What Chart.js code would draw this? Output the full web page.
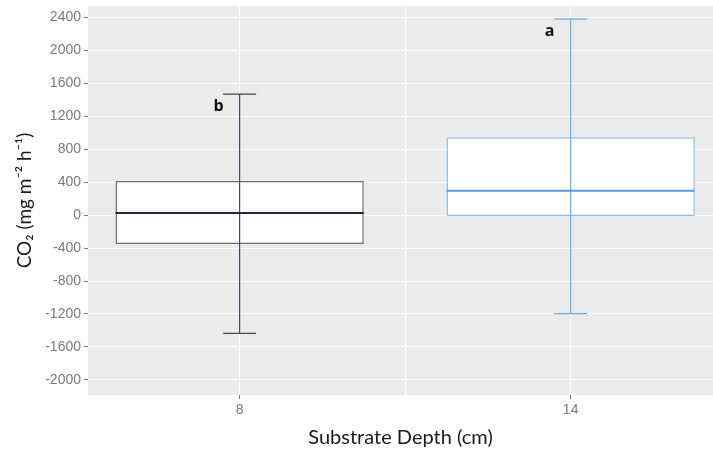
<!DOCTYPE html>
<html>
<head>
<meta charset="utf-8">
<title>CO2 flux by substrate depth</title>
<script src="https://cdn.jsdelivr.net/npm/chart.js@4.4.1/dist/chart.umd.min.js"></script>
<style>
  html, body { margin: 0; padding: 0; background: #fff; }
  #wrap { width: 713px; height: 450px; }
</style>
</head>
<body>
<div id="wrap"><canvas id="fluxChart"></canvas></div>
<script>
// substrate depth groups (cm)
const depths = ['8', '14'];

// box summaries, one entry per depth
const whiskerLow  = [-1435, -1195];
const lowerQuart  = [-350, -12];
const medians     = [25, 293];
const upperQuart  = [412, 944];
const whiskerHigh = [1465, 2375];

// significance letters
const letters = ['b', 'a'];

// y axis labels
const yTicks = [-2000, -1600, -1200, -800, -400, 0, 400, 800, 1200, 1600, 2000, 2400];

const boxEdge   = ['#707070', '#8fc2ea'];
const medianCol = ['#1c2b44', '#5b9bd5'];
const whiskCol  = ['#3d4c60', '#6aaee2'];

const tickGrey = '#7a7a7a';

const panelPlugin = {
    id: 'panel',
    beforeDraw(chart) {
        const { ctx, chartArea: a } = chart;
        ctx.save();
        ctx.fillStyle = '#ebebeb';
        ctx.fillRect(a.left, a.top, a.right - a.left, a.bottom - a.top);
        ctx.restore();
    }
};

// whiskers, caps, medians and letters on top of the boxes
const boxPlugin = {
    id: 'boxExtras',
    afterDatasetsDraw(chart) {
        const { ctx, scales: { x, y } } = chart;
        const unit = x.getPixelForValue(1) - x.getPixelForValue(0);
        const half = unit * 0.375;
        const cap = unit * 0.05;
        ctx.save();
        depths.forEach((d, i) => {
            const cx = x.getPixelForValue(i);
            // whisker
            ctx.strokeStyle = whiskCol[i];
            ctx.lineWidth = 1.2;
            ctx.beginPath();
            ctx.moveTo(cx, y.getPixelForValue(whiskerLow[i]));
            ctx.lineTo(cx, y.getPixelForValue(whiskerHigh[i]));
            [whiskerLow[i], whiskerHigh[i]].forEach(v => {
                const py = y.getPixelForValue(v);
                ctx.moveTo(cx - cap, py);
                ctx.lineTo(cx + cap, py);
            });
            ctx.stroke();
            // median
            const my = y.getPixelForValue(medians[i]);
            ctx.strokeStyle = medianCol[i];
            ctx.lineWidth = 2;
            ctx.beginPath();
            ctx.moveTo(cx - half, my);
            ctx.lineTo(cx + half, my);
            ctx.stroke();
            // letter
            ctx.fillStyle = '#111';
            ctx.font = 'bold 16px "Open Sans", sans-serif';
            ctx.textAlign = 'center';
            ctx.textBaseline = 'middle';
            ctx.fillText(letters[i], cx - 21, y.getPixelForValue(whiskerHigh[i]) + 12);
        });
        ctx.restore();
    }
};

new Chart(document.getElementById('fluxChart'), {
    type: 'bar',
    data: {
        datasets: [{
            data: depths.map((d, i) => ({ x: i, y: [lowerQuart[i], upperQuart[i]] })),
            backgroundColor: '#ffffff',
            borderColor: boxEdge,
            borderWidth: 1.5,
            borderSkipped: false,
            // ruler spacing comes from the half-unit grid ticks, so 1.5 => 0.75 units
            barPercentage: 1.5,
            categoryPercentage: 1,
        }]
    },
    options: {
        responsive: true,
        maintainAspectRatio: false,
        animation: false,
        layout: { padding: { top: 6, right: 0, left: 0, bottom: 0 } },
        plugins: {
            legend: { display: false },
            tooltip: { enabled: false },
        },
        scales: {
            x: {
                type: 'linear',
                offset: false,
                min: -0.458,
                max: 1.43,
                afterBuildTicks(scale) {
                    scale.ticks = [{ value: 0 }, { value: 0.5 }, { value: 1 }];
                },
                afterFit(scale) {
                    scale.height = 55;
                    scale.paddingLeft = 0;
                    scale.paddingRight = 0;
                },
                border: { display: false },
                grid: {
                    offset: false,
                    color: '#ffffff',
                    lineWidth: ctx => (ctx.tick && ctx.tick.value === 0.5 ? 1.2 : 1),
                    tickColor: ctx => (ctx.tick && ctx.tick.value === 0.5 ? 'transparent' : tickGrey),
                    tickLength: 4,
                },
                ticks: {
                    color: tickGrey,
                    padding: 3,
                    font: { family: 'Liberation Sans, Arial, sans-serif', size: 14 },
                    callback: v => (Number.isInteger(v) ? depths[v] : ''),
                },
                title: {
                    display: true,
                    text: 'Substrate Depth (cm)',
                    color: '#1a1a1a',
                    font: { family: 'Lato, "Open Sans", sans-serif', size: 20 },
                    padding: { top: 8, bottom: 0 },
                },
            },
            y: {
                min: -2182,
                max: 2534,
                afterBuildTicks(scale) {
                    const ticks = [];
                    for (let v = -2000; v <= 2400; v += 200) ticks.push({ value: v });
                    scale.ticks = ticks;
                },
                afterFit(scale) {
                    scale.width = 88;
                    scale.paddingTop = 0;
                    scale.paddingBottom = 0;
                },
                border: { display: false },
                grid: {
                    color: '#ffffff',
                    lineWidth: 1,
                    tickColor: ctx => (ctx.tick && yTicks.includes(ctx.tick.value) ? tickGrey : 'transparent'),
                    tickLength: 4,
                },
                ticks: {
                    color: tickGrey,
                    padding: 3,
                    font: { family: 'Liberation Sans, Arial, sans-serif', size: 14 },
                    callback: v => (yTicks.includes(v) ? String(v) : ''),
                },
                title: {
                    display: true,
                    text: 'CO\u2082 (mg m\u207B\u00B2 h\u207B\u00B9)',
                    color: '#1a1a1a',
                    font: { family: 'Lato, "Open Sans", sans-serif', size: 19 },
                    padding: { top: 13, bottom: 0 },
                },
            },
        },
    },
    plugins: [panelPlugin, boxPlugin],
});
</script>
</body>
</html>
